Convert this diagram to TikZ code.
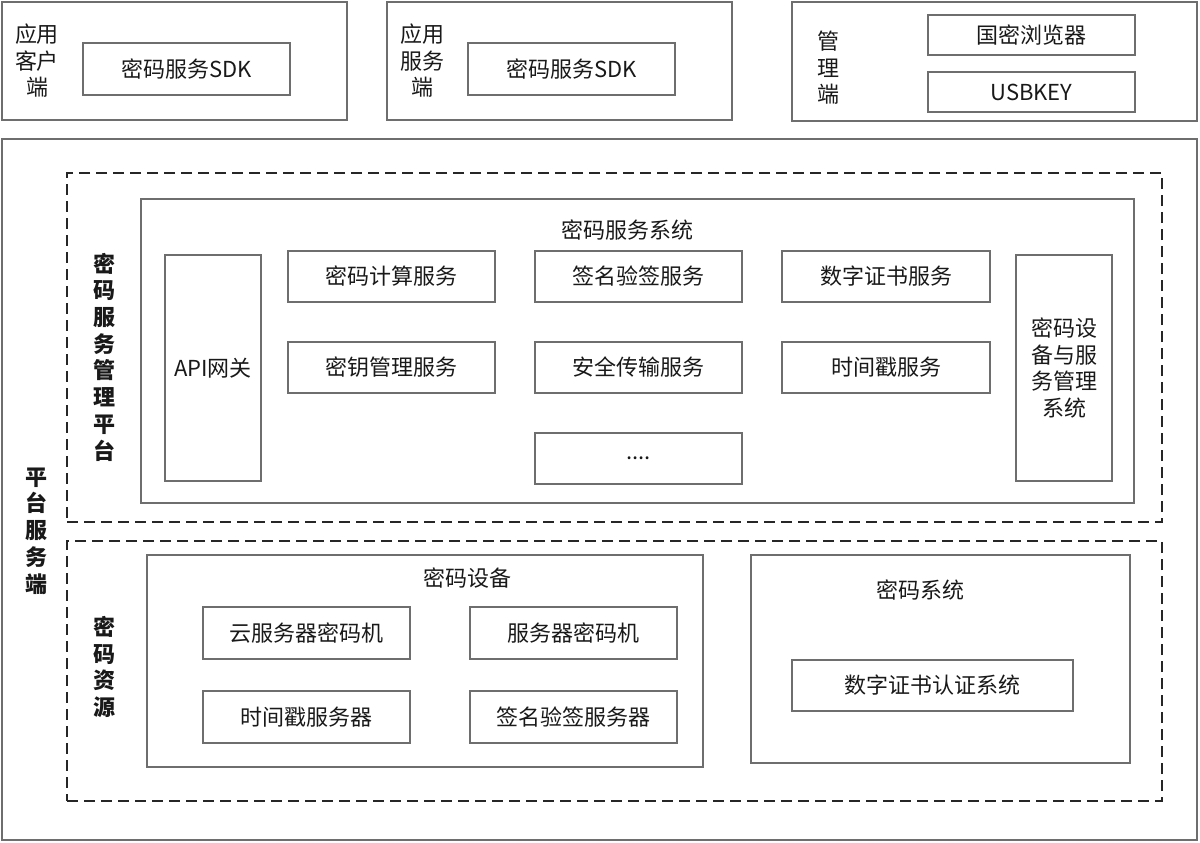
\documentclass[tikz,border=0pt]{standalone}
\usepackage{fontspec}
\setmainfont{Noto Sans CJK SC}
\begin{document}
\begin{tikzpicture}[x=1pt,y=-1pt,
  box/.style={draw=boxgray,line width=1.4pt,inner sep=0pt,outer sep=0pt,text=black!90,font=\fontsize{22}{26.5}\selectfont,align=center},
  dbox/.style={draw=black!85,line width=1.6pt,dash pattern=on 11pt off 6pt,inner sep=0pt,outer sep=0pt},
  ttl/.style={inner sep=0pt,text=black!90,font=\fontsize{22}{26.5}\selectfont,align=center},
  vlbl/.style={inner sep=0pt,text=black!90,font=\fontsize{22}{26.7}\selectfont\bfseries,align=center}]
\definecolor{boxgray}{HTML}{6E6E6E}
\newcommand\bx[7][box]{\node[#1,minimum width={#5-#3},minimum height={#6-#4}] (#2) at ({(#3+#5)/2},{(#4+#6)/2}) {#7};}
\useasboundingbox (0,0) rectangle (1200,843);
% top row
\bx{client}{2}{2}{347}{120}{}
\node[ttl] (clientlbl) at (37,61) {应用\\客户\\端};
\bx{sdk1}{83}{43}{290}{95}{密码服务SDK}
\bx{server}{387}{2}{732}{120}{}
\node[ttl] (serverlbl) at (422,61) {应用\\服务\\端};
\bx{sdk2}{468}{43}{675}{95}{密码服务SDK}
\bx{admin}{792}{2}{1197}{121}{}
\node[ttl] (adminlbl) at (828,68) {管\\理\\端};
\bx{browser}{928}{15}{1135}{55}{国密浏览器}
\bx{usbkey}{928}{72}{1135}{112}{USBKEY}
% platform
\bx{platform}{2}{139}{1197}{840}{}
\node[vlbl] (platlbl) at (36,531) {平\\台\\服\\务\\端};
% management platform
\bx[dbox]{mgmt}{67}{173}{1162}{522}{}
\node[vlbl] (mgmtlbl) at (104,357) {密\\码\\服\\务\\管\\理\\平\\台};
\bx{svcsys}{141}{199}{1134}{503}{}
\node[ttl] (svcsyslbl) at (627,230) {密码服务系统};
\bx{api}{165}{255}{261}{481}{API网关}
\bx{calc}{288}{251}{495}{302}{密码计算服务}
\bx{sign}{535}{251}{742}{302}{签名验签服务}
\bx{cert}{782}{251}{990}{302}{数字证书服务}
\bx{key}{288}{342}{495}{393}{密钥管理服务}
\bx{trans}{535}{342}{742}{393}{安全传输服务}
\bx{tsa}{782}{342}{990}{393}{时间戳服务}
\bx{more}{535}{433}{742}{484}{....}
\bx{devmgmt}{1016}{255}{1112}{481}{密码设\\备与服\\务管理\\系统}
% resources
\bx[dbox]{res}{67}{541}{1162}{801}{}
\node[vlbl] (reslbl) at (104,667) {密\\码\\资\\源};
\bx{devices}{147}{555}{703}{767}{}
\node[ttl] (deviceslbl) at (467,578) {密码设备};
\bx{cloudhsm}{203}{607}{410}{659}{云服务器密码机}
\bx{hsm}{470}{607}{677}{659}{服务器密码机}
\bx{tsserver}{203}{691}{410}{743}{时间戳服务器}
\bx{signserver}{470}{691}{677}{743}{签名验签服务器}
\bx{systems}{751}{555}{1130}{763}{}
\node[ttl] (systemslbl) at (920,590) {密码系统};
\bx{ca}{792}{660}{1073}{711}{数字证书认证系统}
\end{tikzpicture}
\end{document}
